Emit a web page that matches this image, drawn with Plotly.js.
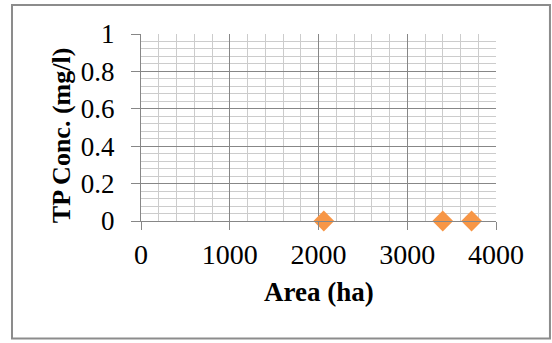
<!DOCTYPE html>
<html>
<head>
<meta charset="utf-8">
<script src="https://cdn.plot.ly/plotly-3.0.1.min.js"></script>
<style>
  html, body { margin: 0; padding: 0; background: #fff; }
  #chart { width: 552px; height: 343px; }
</style>
</head>
<body>
<div id="chart"></div>
<script>
// Catchment area vs. total phosphorus concentration
const areaHa = [2060, 3400, 3725];
const tpConc = [0, 0, 0];

const xTicks = [0, 1000, 2000, 3000, 4000];
const yTicks = [0, 0.2, 0.4, 0.6, 0.8, 1];

const xTitle = 'Area (ha)';
const yTitle = 'TP Conc. (mg/l)';

const serif = 'Liberation Serif, Times New Roman, serif';

const trace = {
  x: areaHa,
  y: tpConc,
  type: 'scatter',
  mode: 'markers',
  cliponaxis: false,
  marker: { symbol: 'diamond', size: 16, color: '#F79646', line: { width: 0 } },
  hoverinfo: 'x+y'
};

const layout = {
  width: 552,
  height: 343,
  margin: { l: 141, r: 56, t: 34, b: 122 },
  paper_bgcolor: '#ffffff',
  plot_bgcolor: '#ffffff',
  showlegend: false,
  font: { family: serif, color: '#000', size: 28 },
  xaxis: {
    range: [0, 4000],
    tickvals: xTicks,
    ticktext: xTicks.map(String),
    ticks: 'outside',
    ticklen: 8,
    tickwidth: 1,
    tickcolor: '#878787',
    showline: true,
    linecolor: '#878787',
    linewidth: 1,
    showgrid: true,
    gridcolor: '#878787',
    gridwidth: 1,
    zeroline: false,
    minor: { dtick: 200, showgrid: true, gridcolor: '#cccccc', gridwidth: 1 },
    tickfont: { family: serif, size: 28, color: '#000' },
    fixedrange: true
  },
  yaxis: {
    range: [0, 1],
    tickvals: yTicks,
    ticktext: yTicks.map(String),
    ticks: 'outside',
    ticklen: 9,
    tickwidth: 1,
    tickcolor: '#878787',
    showline: true,
    linecolor: '#878787',
    linewidth: 1,
    showgrid: true,
    gridcolor: '#878787',
    gridwidth: 1,
    zeroline: false,
    minor: { dtick: 0.04, showgrid: true, gridcolor: '#cccccc', gridwidth: 1 },
    tickfont: { family: serif, size: 27, color: '#000' },
    ticklabelstandoff: 11,
    fixedrange: true
  },
  annotations: [
    {
      text: '<b>' + xTitle + '</b>', xref: 'paper', yref: 'paper',
      x: 0.5, y: -0.379, xanchor: 'center', yanchor: 'middle', showarrow: false,
      font: { family: serif, size: 27, color: '#000' }
    },
    {
      text: '<b>' + yTitle + '</b>', xref: 'paper', yref: 'paper',
      x: -0.222, y: 0.460, xanchor: 'center', yanchor: 'middle', showarrow: false,
      textangle: -90,
      font: { family: serif, size: 26, color: '#000' }
    }
  ],
  shapes: [
    // outer frame around the whole chart
    {
      type: 'rect', xref: 'paper', yref: 'paper',
      x0: -0.3634, x1: 1.152, y0: -0.629, y1: 1.155,
      line: { color: '#8c8c8c', width: 2 }, fillcolor: 'rgba(0,0,0,0)', layer: 'below'
    }
  ]
};

Plotly.newPlot('chart', [trace], layout, { displayModeBar: false, staticPlot: true });
</script>
</body>
</html>
